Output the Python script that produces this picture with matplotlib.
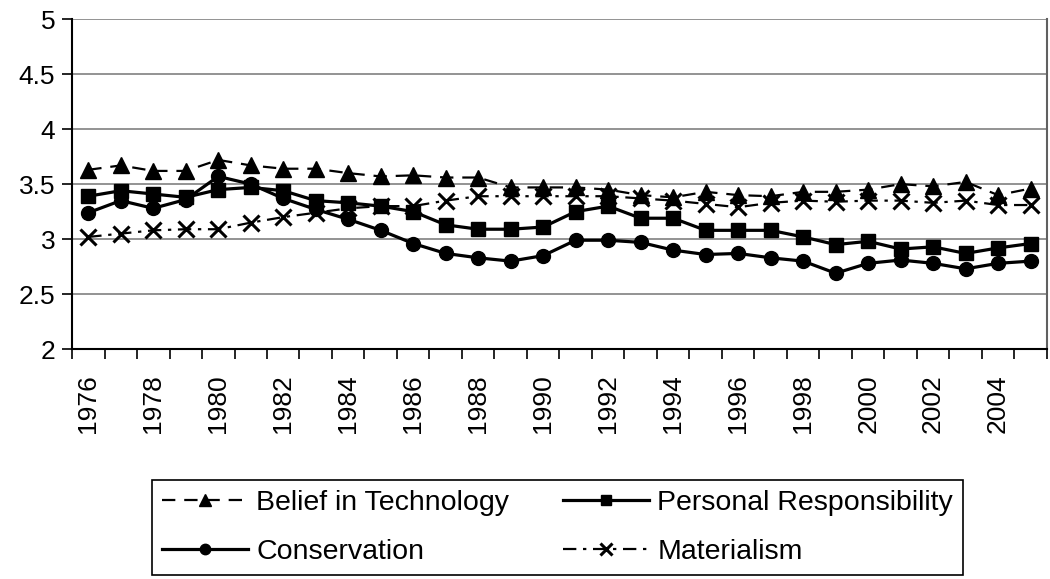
import matplotlib.pyplot as plt
import numpy as np

plt.rcParams['font.family'] = ['Liberation Sans', 'DejaVu Sans']

years = list(range(1976, 2006))

belief_tech = [3.63, 3.67, 3.62, 3.62, 3.72, 3.67, 3.64, 3.64, 3.60, 3.57,
               3.58, 3.56, 3.56, 3.47, 3.47, 3.47, 3.45, 3.40, 3.38, 3.43,
               3.40, 3.39, 3.43, 3.43, 3.45, 3.50, 3.48, 3.52, 3.40, 3.46]
personal_resp = [3.39, 3.44, 3.41, 3.38, 3.45, 3.47, 3.44, 3.35, 3.33, 3.30,
                 3.25, 3.13, 3.09, 3.09, 3.11, 3.25, 3.30, 3.19, 3.19, 3.08,
                 3.08, 3.08, 3.02, 2.95, 2.98, 2.91, 2.93, 2.87, 2.92, 2.96]
conservation = [3.24, 3.35, 3.28, 3.36, 3.57, 3.50, 3.37, 3.27, 3.18, 3.08,
                2.96, 2.87, 2.83, 2.80, 2.85, 2.99, 2.99, 2.97, 2.90, 2.86,
                2.87, 2.83, 2.80, 2.69, 2.78, 2.81, 2.78, 2.73, 2.78, 2.80]
materialism = [3.02, 3.05, 3.08, 3.09, 3.09, 3.15, 3.20, 3.24, 3.28, 3.30,
               3.30, 3.35, 3.39, 3.39, 3.39, 3.39, 3.39, 3.37, 3.35, 3.32,
               3.29, 3.33, 3.35, 3.34, 3.35, 3.35, 3.33, 3.35, 3.31, 3.31]

fig = plt.figure(figsize=(10.5, 5.79), dpi=100)
ax = fig.add_axes([0.0686, 0.397, 0.9284, 0.570])

x = np.arange(len(years))

l1, = ax.plot(x, belief_tech, color='black', linestyle=(0, (6, 4)), linewidth=1.6,
              marker='^', markersize=11, label='Belief in Technology')
l2, = ax.plot(x, personal_resp, color='black', linestyle='-', linewidth=2.3,
              marker='s', markersize=9.5, label='Personal Responsibility')
l3, = ax.plot(x, conservation, color='black', linestyle='-', linewidth=2.3,
              marker='o', markersize=10, label='Conservation')
l4, = ax.plot(x, materialism, color='black', linestyle=(0, (6, 3, 1.5, 3)), linewidth=1.6,
              marker='x', markersize=12, markeredgewidth=2.2, label='Materialism')

ax.set_ylim(2, 5)
ax.set_yticks(np.arange(2, 5.01, 0.5))
ax.set_yticklabels(['2', '2.5', '3', '3.5', '4', '4.5', '5'], fontsize=19)
ax.yaxis.grid(True, color='#808080', linewidth=1.2)
ax.set_axisbelow(True)

ax.set_xlim(-0.5, len(years) - 0.5)
ax.set_xticks(x[::2])
ax.set_xticklabels([str(y) for y in years[::2]], rotation=90, fontsize=19)
ax.tick_params(axis='x', length=0, pad=18)
ax.set_xticks(np.arange(-0.5, len(years), 1), minor=True)
ax.tick_params(axis='x', which='minor', length=7, width=1.2, direction='out')
ax.tick_params(axis='y', length=7, width=1.2, direction='out', pad=5)

ax.spines['top'].set_visible(False)
for s in ['left', 'bottom', 'right']:
    ax.spines[s].set_linewidth(1.5)
ax.spines['right'].set_color('#606060')

leg = fig.legend([l1, l3, l2, l4],
                 ['Belief in Technology', 'Conservation', 'Personal Responsibility', 'Materialism'],
                 loc='center', bbox_to_anchor=(0.531, 0.089), ncol=2, fontsize=20.5,
                 fancybox=False, edgecolor='black', handlelength=3.0, handletextpad=0.3,
                 columnspacing=1.9, framealpha=1, borderpad=0.35, labelspacing=0.8,
                 borderaxespad=0, markerscale=0.75)
leg.get_frame().set_linewidth(1.2)

plt.savefig('out.png', dpi=100)
